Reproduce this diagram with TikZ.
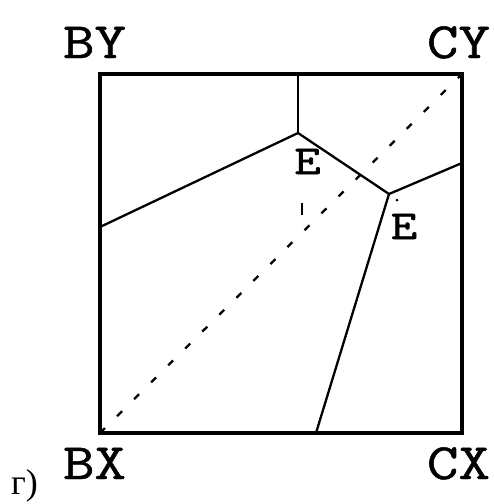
\documentclass[tikz,border=0pt]{standalone}
\usepackage{fontspec}
\setmainfont{Liberation Serif}
\newfontfamily\monoc[FakeBold=0.9]{Latin Modern Mono}
\newfontfamily\monoe[FakeBold=1.4]{Latin Modern Mono}
\begin{document}
\begin{tikzpicture}[x=1pt,y=-1pt,
  frame/.style={line width=3.2pt,line join=miter},
  edge/.style={line width=2.3pt},
  diag/.style={line width=2.3pt,dash pattern=on 7pt off 17pt},
  corner/.style={font=\monoc\fontsize{51}{51}\selectfont,inner sep=0pt,anchor=base,xscale=1.2},
  elabel/.style={font=\monoe\fontsize{41}{41}\selectfont,inner sep=0pt,anchor=base,xscale=1.25},
  caption/.style={font=\fontsize{36}{36}\selectfont,inner sep=0pt,anchor=base west}]
\useasboundingbox (0,0) rectangle (494,504);
% frame
\coordinate (BL) at (100,433);
\coordinate (TR) at (462,74);
\draw[frame] (100,74) rectangle (462,433);
% vertices and edge ends
\coordinate (V1) at (298,133);
\coordinate (V2) at (389,194);
\coordinate (T1) at (298,74);
\coordinate (L1) at (100,227);
\coordinate (R2) at (462,163);
\coordinate (B2) at (316,433);
\draw[edge] (T1) -- (V1);
\draw[edge] (V1) -- (L1);
\draw[edge] (V1) -- (V2);
\draw[edge] (V2) -- (R2);
\draw[edge] (V2) -- (B2);
% diagonal
\draw[diag] (BL) -- (TR);
% small marks
\coordinate (K1) at (302,203);
\coordinate (K2) at (302,215);
\draw[edge] (K1) -- (K2);
\coordinate (D1) at (397,200);
\fill (D1) circle (1.5pt);
% labels
\node[corner] (by) at (94.5,58) {BY};
\node[corner] (cy) at (458.5,58) {CY};
\node[corner] (bx) at (94.5,479) {BX};
\node[corner] (cx) at (458.5,479) {CX};
\node[elabel] (e1) at (307.5,174) {E};
\node[elabel] (e2) at (404,239) {E};
\node[caption] (cap) at (11,494) {г)};
\end{tikzpicture}
\end{document}
